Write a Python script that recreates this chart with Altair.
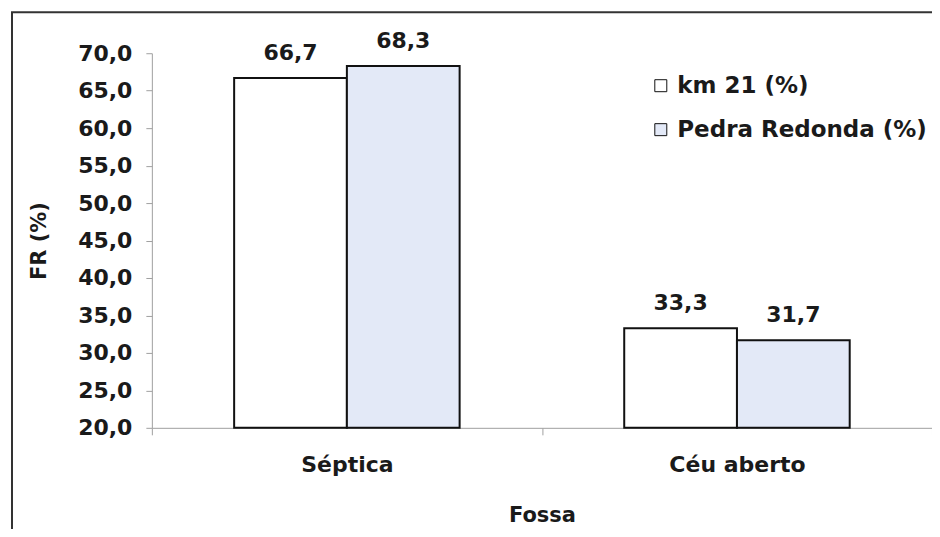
import altair as alt
import pandas as pd

categories = ["Séptica", "Céu aberto"]
series = ["km 21 (%)", "Pedra Redonda (%)"]
km21 = [66.7, 33.3]
pedra = [68.3, 31.7]
y_ticks = [20, 25, 30, 35, 40, 45, 50, 55, 60, 65, 70]

rows = []
for i, c in enumerate(categories):
    rows.append({"Fossa": c, "serie": series[0], "v": km21[i]})
    rows.append({"Fossa": c, "serie": series[1], "v": pedra[i]})
df = pd.DataFrame(rows)

FONT = "DejaVu Sans"
TXT = "#1a1a1a"
AX = "#a0a0a0"
W, H = 781, 375

xaxis = alt.Axis(title="Fossa", labelAngle=0, tickBand="extent",
                 labelFont=FONT, labelFontSize=22, labelFontWeight="bold", labelColor=TXT,
                 titleFont=FONT, titleFontSize=21, titleFontWeight="bold", titleColor=TXT,
                 domainColor=AX, tickColor=AX, tickSize=7, labelPadding=20, titlePadding=29)
yaxis = alt.Axis(values=y_ticks, tickCount=11, grid=False, labelOverlap=False,
                 labelExpr="replace(format(datum.value, '.1f'), '.', ',')",
                 title="FR (%)", labelFont=FONT, labelFontSize=22, labelFontWeight="bold", labelColor=TXT,
                 titleFont=FONT, titleFontSize=21, titleFontWeight="bold", titleColor=TXT,
                 domainColor=AX, tickColor=AX, tickSize=6, labelPadding=14, titlePadding=28)

xscale = alt.Scale(paddingInner=0, paddingOuter=0)
xoff = alt.XOffset("serie:N", sort=series, scale=alt.Scale(paddingInner=0, paddingOuter=0.73))
yscale = alt.Scale(domain=[20, 70], nice=False)

bars = alt.Chart(df).mark_bar(stroke="#111111", strokeWidth=2).encode(
    x=alt.X("Fossa:N", sort=categories, scale=xscale, axis=xaxis), xOffset=xoff,
    y=alt.Y("v:Q", scale=yscale, axis=yaxis),
    y2=alt.datum(20),
    fill=alt.Fill("serie:N", sort=series,
                  scale=alt.Scale(domain=series, range=["#ffffff", "#e3e9f7"]),
                  legend=alt.Legend(title=None, orient="none", legendX=498, legendY=21,
                                    symbolType="square", symbolSize=144,
                                    symbolStrokeColor="#111111", symbolStrokeWidth=1,
                                    labelFont=FONT, labelFontSize=23, labelFontWeight="bold",
                                    labelColor=TXT, rowPadding=20, labelOffset=5, labelLimit=400)),
)

labels = alt.Chart(df).transform_calculate(
    lab="replace(format(datum.v, '.1f'), '.', ',')"
).mark_text(dy=-18, baseline="alphabetic", font=FONT, fontSize=22, fontWeight="bold", color=TXT).encode(
    x=alt.X("Fossa:N", sort=categories, scale=xscale, axis=xaxis), xOffset=xoff,
    y=alt.Y("v:Q", scale=yscale, axis=yaxis), text="lab:N",
)

frame = alt.Chart(pd.DataFrame({"a": [0]})).mark_rect(
    filled=False, stroke="#333333", strokeWidth=2
).encode(
    x=alt.value(-140), x2=alt.value(W + 60),
    y=alt.value(-41), y2=alt.value(H + 200),
)

chart = alt.layer(frame, bars, labels).properties(
    width=W, height=H,
    autosize=alt.AutoSizeParams(type="none"),
    padding={"left": 144, "top": 45, "right": 0, "bottom": 101},
    background="white",
).configure_view(stroke=None)

chart.save("out.html", embed_options={"renderer": "svg", "actions": False})
